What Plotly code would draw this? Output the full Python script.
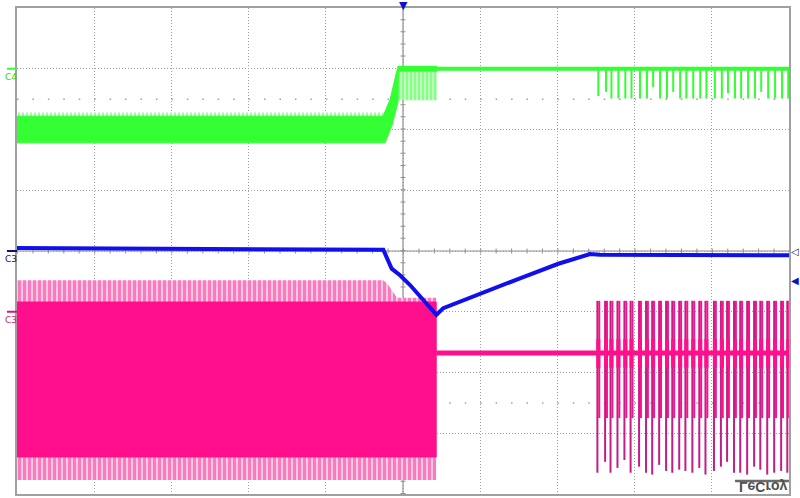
import plotly.graph_objects as go

# screen is 10 x 8 divisions; time and amplitude below are in divisions
GREEN = "#33FF33"
BLUE = "#1010EE"
PINK = "#FF0F8C"
PINK_DARK = "#C21E86"
GRID = "#A0A0A0"

# C4 (green): noisy band, edge, ringing, then flat level
c4_hi_t = [0.0, 4.741, 4.832, 4.896, 4.935, 5.440]
c4_hi_v = [2.22, 2.22, 2.49, 2.85, 3.04, 3.04]
c4_lo_t = [0.0, 4.767, 4.858, 4.935, 4.940, 5.440]
c4_lo_v = [1.78, 1.78, 2.07, 2.45, 2.96, 2.96]
c4_spike_t = [0.0, 4.741]
c4_spike_v = [2.28, 2.28]
c4_ring_t = [4.935, 5.440]
c4_ring_v = [2.48, 2.48]
c4_flat_t = [5.440, 10.0]
c4_flat_v = [3.0, 3.0]

# C3 (blue)
c3_t = [0.0, 4.745, 4.853, 4.961, 5.091, 5.242, 5.368, 5.433, 5.522, 5.997, 6.515, 7.012, 7.422, 7.552, 10.0]
c3_v = [0.05, 0.02, -0.29, -0.40, -0.56, -0.78, -0.97, -1.05, -0.94, -0.70, -0.45, -0.21, -0.05, -0.06, -0.07]

# C3 (pink): dense switching, then idle level with bursts
c1_top_t = [0.0, 4.741, 4.793, 4.870, 4.922, 5.430]
c1_top_v = [-0.48, -0.48, -0.53, -0.68, -0.77, -0.77]
c1_fill_t = [0.0, 5.430]
c1_fill_hi = [-0.84, -0.84]
c1_fill_lo = [-3.39, -3.39]
c1_bot_v = [-3.77, -3.77]
c1_flat_t = [5.430, 10.0]
c1_flat_v = [-1.68, -1.68]

burst_t = [7.53, 7.63, 7.70, 7.79, 7.88, 7.96, 8.07, 8.16, 8.24, 8.33, 8.42, 8.50, 8.59, 8.67, 8.76,
           8.85, 8.93, 9.04, 9.13, 9.21, 9.30, 9.38, 9.47, 9.56, 9.64, 9.73, 9.82, 9.91, 9.99]
burst_bottom = [-3.65, -3.47, -3.65, -3.57, -3.44, -3.65, -3.55, -3.65, -3.68, -3.52, -3.62, -3.65, -3.60, -3.62, -3.65,
                -3.57, -3.68, -3.62, -3.55, -3.47, -3.65, -3.65, -3.68, -3.55, -3.60, -3.68, -3.65, -3.62, -3.65]
burst_top = -0.82
burst_mid = -2.75
burst_ring = (-1.45, -1.92)
dip_depth = [2.55, 2.62, 2.51, 2.51, 2.51, 2.51, 2.51, 2.51, 2.70, 2.51, 2.51, 2.62, 2.51, 2.51, 2.51,
             2.51, 2.51, 2.51, 2.51, 2.60, 2.51, 2.51, 2.51, 2.51, 2.62, 2.51, 2.51, 2.51, 2.51]


def band(t_hi, v_hi, t_lo, v_lo):
    return list(t_hi) + list(t_lo)[::-1], list(v_hi) + list(v_lo)[::-1]


def segments(ts, y0s, y1s, dx=0.0):
    xs, ys = [], []
    for t, a, b in zip(ts, y0s, y1s):
        xs += [t + dx, t + dx, None]
        ys += [a, b, None]
    return xs, ys


def pattern(color, bg, solidity=0.7, size=5):
    return dict(shape="|", fgcolor=color, bgcolor=bg, size=size, solidity=solidity)


n = len(burst_t)
fig = go.Figure()

# green
x, y = band(c4_spike_t, c4_spike_v, c4_spike_t, [2.2, 2.2])
fig.add_trace(go.Scatter(x=x, y=y, fill="toself", mode="lines", line=dict(width=0),
                         fillcolor="white", fillpattern=pattern(GREEN, "white", 0.5, 4)))
x, y = band(c4_ring_t, [2.97, 2.97], c4_ring_t, c4_ring_v)
fig.add_trace(go.Scatter(x=x, y=y, fill="toself", mode="lines", line=dict(width=0),
                         fillcolor="white", fillpattern=pattern(GREEN, "#D8FFD8", 0.65, 4)))
x, y = band(c4_hi_t, c4_hi_v, c4_lo_t, c4_lo_v)
fig.add_trace(go.Scatter(x=x, y=y, fill="toself", mode="lines", line=dict(width=1, color=GREEN), fillcolor=GREEN))
fig.add_trace(go.Scatter(x=c4_flat_t, y=c4_flat_v, mode="lines", line=dict(width=4, color=GREEN)))
x, y = segments(burst_t, c4_flat_v[:1] * n, dip_depth)
fig.add_trace(go.Scatter(x=x, y=y, mode="lines", line=dict(width=2, color=GREEN)))

# pink
x, y = band(c1_top_t, c1_top_v, c1_fill_t, c1_fill_hi)
fig.add_trace(go.Scatter(x=x, y=y, fill="toself", mode="lines", line=dict(width=0),
                         fillcolor="white", fillpattern=pattern(PINK, "#F6E4F0")))
x, y = band(c1_fill_t, c1_fill_lo, c1_fill_t, c1_bot_v)
fig.add_trace(go.Scatter(x=x, y=y, fill="toself", mode="lines", line=dict(width=0),
                         fillcolor="white", fillpattern=pattern(PINK, "#F6E4F0")))
x, y = band(c1_fill_t, c1_fill_hi, c1_fill_t, c1_fill_lo)
fig.add_trace(go.Scatter(x=x, y=y, fill="toself", mode="lines", line=dict(width=1, color=PINK), fillcolor=PINK))
fig.add_trace(go.Scatter(x=c1_flat_t, y=c1_flat_v, mode="lines", line=dict(width=5, color=PINK)))
x, y = segments(burst_t, [burst_top] * n, burst_bottom, dx=-0.012)
fig.add_trace(go.Scatter(x=x, y=y, mode="lines", line=dict(width=2, color=PINK_DARK)))
x, y = segments(burst_t, [burst_top] * n, [burst_mid] * n, dx=0.012)
fig.add_trace(go.Scatter(x=x, y=y, mode="lines", line=dict(width=2, color=PINK)))
x, y = segments(burst_t, [burst_ring[0]] * n, [burst_ring[1]] * n)
fig.add_trace(go.Scatter(x=x, y=y, mode="lines", line=dict(width=4, color=PINK)))

# blue
fig.add_trace(go.Scatter(x=c3_t, y=c3_v, mode="lines", line=dict(width=4, color=BLUE)))

shapes = [
    # centre cross with minor ticks
    dict(type="line", x0=0, x1=10, y0=0, y1=0, line=dict(color="#909090", width=5, dash="1px,14.44px"), layer="below"),
    dict(type="line", x0=5, x1=5, y0=-4, y1=4, line=dict(color="#909090", width=5, dash="1px,11.15px"), layer="below"),
    dict(type="line", x0=0, x1=10, y0=0, y1=0, line=dict(color="#909090", width=1.2), layer="below"),
    dict(type="line", x0=5, x1=5, y0=-4, y1=4, line=dict(color="#909090", width=1.2), layer="below"),
    dict(type="line", x0=0, x1=10, y0=2.5, y1=2.5, line=dict(color=GRID, width=1.5, dash="1.5px,13.94px"), layer="below"),
    dict(type="line", x0=0, x1=10, y0=-2.5, y1=-2.5, line=dict(color=GRID, width=1.5, dash="1.5px,13.94px"), layer="below"),
    # channel offset markers left of the grid
    dict(type="line", xref="paper", yref="paper", x0=-0.013, x1=0, y0=(3 + 4) / 8, y1=(3 + 4) / 8,
         line=dict(color=GREEN, width=2)),
    dict(type="line", xref="paper", yref="paper", x0=-0.013, x1=0, y0=0.5, y1=0.5,
         line=dict(color="#14146E", width=2)),
    dict(type="line", xref="paper", yref="paper", x0=-0.013, x1=0, y0=3 / 8, y1=3 / 8,
         line=dict(color="#D0187C", width=2)),
    # LeCroy logo bar
    dict(type="line", xref="paper", yref="paper", x0=(735 - 17) / 772, x1=(789 - 17) / 772,
         y0=(494 - 481) / 486, y1=(494 - 481) / 486, line=dict(color="#6A6A6A", width=2.5)),
]


def label(text, y, color):
    return dict(text=text, xref="paper", yref="paper", x=-0.008, y=y, yshift=-8, showarrow=False,
                xanchor="center", yanchor="middle", font=dict(size=9, color=color, family="DejaVu Sans"))


annotations = [
    label("C4", (3 + 4) / 8, "#22DD22"),
    label("C3", 0.5, "#14146E"),
    label("C3", 3 / 8, "#D0187C"),
    dict(text="▼", xref="paper", yref="paper", x=0.5, y=1, xanchor="center", yanchor="bottom", yshift=-6,
         showarrow=False, font=dict(size=11, color="#1010C8", family="DejaVu Sans")),
    dict(text="◁", xref="paper", yref="paper", x=1, xanchor="left", y=0.5, yanchor="middle", showarrow=False,
         font=dict(size=10, color="#14146E", family="DejaVu Sans")),
    dict(text="◀", xref="paper", yref="paper", x=1, xanchor="left", y=(4 - 0.486) / 8, yanchor="middle",
         showarrow=False, font=dict(size=10, color="#1010C8", family="DejaVu Sans")),
    dict(text="<b>LeCroy</b>", xref="paper", yref="paper", x=(763 - 17) / 772, y=(494 - 486.5) / 486,
         xanchor="center", yanchor="middle", showarrow=False,
         font=dict(size=14, color="#505050", family="Liberation Sans")),
]

axis = dict(showgrid=True, gridcolor=GRID, griddash="1px,2px", gridwidth=1, showticklabels=False, ticks="",
            zeroline=False, showline=True, linecolor=GRID, linewidth=1.5, mirror=True, fixedrange=True)
fig.update_layout(
    width=800, height=498, autosize=False,
    margin=dict(l=17, r=11, t=8, b=4),
    paper_bgcolor="white", plot_bgcolor="white",
    showlegend=False,
    xaxis=dict(axis, range=[0, 10], dtick=1, tick0=0),
    yaxis=dict(axis, range=[-4, 4], dtick=1, tick0=0),
    shapes=shapes, annotations=annotations,
)

flip = """
document.body.style.margin = '0';
document.querySelectorAll('.annotation-text').forEach(function (t) {
  if (t.textContent === 'LeCroy') {
    t.style.transformBox = 'fill-box';
    t.style.transformOrigin = 'center';
    t.style.transform = 'scaleY(-1)';
  }
});
"""
fig.write_html("out.html", config={"displayModeBar": False}, post_script=flip)
